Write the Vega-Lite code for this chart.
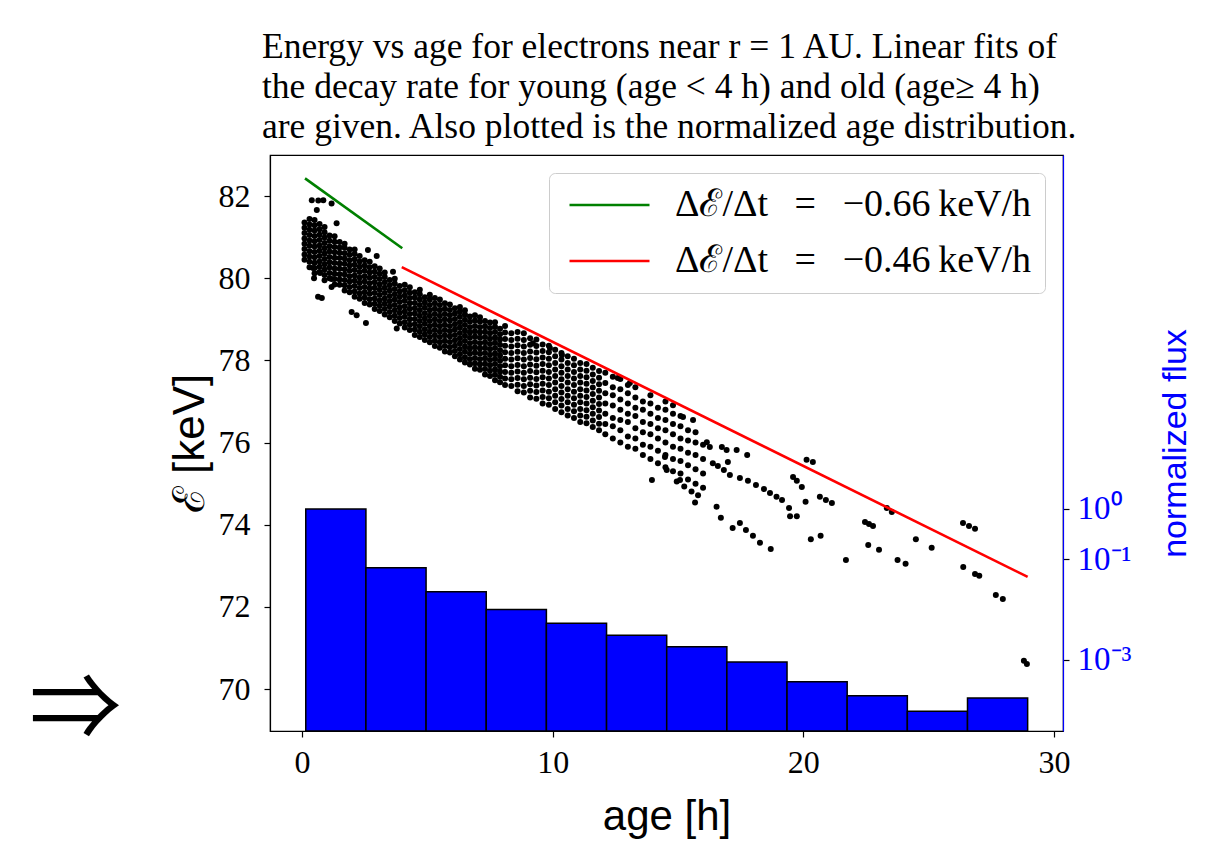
{
  "$schema": "https://vega.github.io/schema/vega-lite/v6.json",
  "autosize": "none",
  "padding": {"left": 270, "top": 155, "right": 146, "bottom": 124},
  "width": 793,
  "height": 576,
  "background": "white",
  "title": {
    "text": ["Energy vs age for electrons near r = 1 AU. Linear fits of", "the decay rate for young (age < 4 h) and old (age≥ 4 h)", "are given. Also plotted is the normalized age distribution."],
    "anchor": "start", "frame": "group", "dx": -8, "offset": 10,
    "font": "Liberation Serif", "fontSize": 35.5, "fontWeight": "normal", "lineHeight": 40, "color": "black"
  },
  "datasets": {
    "pts": [
      {"t":0.1,"e":80.45},{"t":0.1,"e":80.58},{"t":0.1,"e":80.71},{"t":0.1,"e":80.84},{"t":0.1,"e":80.97},{"t":0.1,"e":81.1},{"t":0.1,"e":81.23},{"t":0.1,"e":81.36},
      {"t":0.3,"e":80.27},{"t":0.3,"e":80.4},{"t":0.3,"e":80.53},{"t":0.3,"e":80.66},{"t":0.3,"e":80.79},{"t":0.3,"e":80.92},{"t":0.3,"e":81.05},{"t":0.3,"e":81.18},{"t":0.3,"e":81.31},{"t":0.3,"e":81.44},
      {"t":0.5,"e":80.12},{"t":0.5,"e":80.25},{"t":0.5,"e":80.38},{"t":0.5,"e":80.51},{"t":0.5,"e":80.64},{"t":0.5,"e":80.77},{"t":0.5,"e":80.9},{"t":0.5,"e":81.03},{"t":0.5,"e":81.16},{"t":0.5,"e":81.29},{"t":0.5,"e":81.42},
      {"t":0.7,"e":80.15},{"t":0.7,"e":80.28},{"t":0.7,"e":80.41},{"t":0.7,"e":80.54},{"t":0.7,"e":80.67},{"t":0.7,"e":80.8},{"t":0.7,"e":80.93},{"t":0.7,"e":81.06},{"t":0.7,"e":81.19},{"t":0.7,"e":81.32},
      {"t":0.9,"e":79.95},{"t":0.9,"e":80.08},{"t":0.9,"e":80.21},{"t":0.9,"e":80.34},{"t":0.9,"e":80.47},{"t":0.9,"e":80.6},{"t":0.9,"e":80.73},{"t":0.9,"e":80.86},{"t":0.9,"e":80.99},{"t":0.9,"e":81.12},{"t":0.9,"e":81.25},
      {"t":1.1,"e":80.0},{"t":1.1,"e":80.13},{"t":1.1,"e":80.26},{"t":1.1,"e":80.39},{"t":1.1,"e":80.52},{"t":1.1,"e":80.65},{"t":1.1,"e":80.78},{"t":1.1,"e":80.91},{"t":1.1,"e":81.04},
      {"t":1.3,"e":79.85},{"t":1.3,"e":79.98},{"t":1.3,"e":80.11},{"t":1.3,"e":80.24},{"t":1.3,"e":80.37},{"t":1.3,"e":80.5},{"t":1.3,"e":80.63},{"t":1.3,"e":80.76},{"t":1.3,"e":80.89},{"t":1.3,"e":81.02},
      {"t":1.5,"e":79.84},{"t":1.5,"e":79.97},{"t":1.5,"e":80.1},{"t":1.5,"e":80.23},{"t":1.5,"e":80.36},{"t":1.5,"e":80.49},{"t":1.5,"e":80.62},{"t":1.5,"e":80.75},{"t":1.5,"e":80.88},
      {"t":1.7,"e":79.7},{"t":1.7,"e":79.83},{"t":1.7,"e":79.96},{"t":1.7,"e":80.09},{"t":1.7,"e":80.22},{"t":1.7,"e":80.35},{"t":1.7,"e":80.48},{"t":1.7,"e":80.61},{"t":1.7,"e":80.74},{"t":1.7,"e":80.84},
      {"t":1.9,"e":79.66},{"t":1.9,"e":79.79},{"t":1.9,"e":79.92},{"t":1.9,"e":80.05},{"t":1.9,"e":80.18},{"t":1.9,"e":80.31},{"t":1.9,"e":80.44},{"t":1.9,"e":80.57},{"t":1.9,"e":80.7},
      {"t":2.1,"e":79.55},{"t":2.1,"e":79.68},{"t":2.1,"e":79.81},{"t":2.1,"e":79.94},{"t":2.1,"e":80.07},{"t":2.1,"e":80.2},{"t":2.1,"e":80.33},{"t":2.1,"e":80.46},{"t":2.1,"e":80.59},{"t":2.1,"e":80.7},
      {"t":2.3,"e":79.5},{"t":2.3,"e":79.63},{"t":2.3,"e":79.76},{"t":2.3,"e":79.89},{"t":2.3,"e":80.02},{"t":2.3,"e":80.15},{"t":2.3,"e":80.28},{"t":2.3,"e":80.41},{"t":2.3,"e":80.54},
      {"t":2.5,"e":79.4},{"t":2.5,"e":79.53},{"t":2.5,"e":79.66},{"t":2.5,"e":79.79},{"t":2.5,"e":79.92},{"t":2.5,"e":80.05},{"t":2.5,"e":80.18},{"t":2.5,"e":80.31},{"t":2.5,"e":80.44},
      {"t":2.7,"e":79.36},{"t":2.7,"e":79.49},{"t":2.7,"e":79.62},{"t":2.7,"e":79.75},{"t":2.7,"e":79.88},{"t":2.7,"e":80.01},{"t":2.7,"e":80.14},{"t":2.7,"e":80.27},{"t":2.7,"e":80.4},
      {"t":2.9,"e":79.25},{"t":2.9,"e":79.38},{"t":2.9,"e":79.51},{"t":2.9,"e":79.64},{"t":2.9,"e":79.77},{"t":2.9,"e":79.9},{"t":2.9,"e":80.03},{"t":2.9,"e":80.16},{"t":2.9,"e":80.29},
      {"t":3.1,"e":79.2},{"t":3.1,"e":79.33},{"t":3.1,"e":79.46},{"t":3.1,"e":79.59},{"t":3.1,"e":79.72},{"t":3.1,"e":79.85},{"t":3.1,"e":79.98},{"t":3.1,"e":80.11},{"t":3.1,"e":80.24},
      {"t":3.3,"e":79.12},{"t":3.3,"e":79.25},{"t":3.3,"e":79.38},{"t":3.3,"e":79.51},{"t":3.3,"e":79.64},{"t":3.3,"e":79.77},{"t":3.3,"e":79.9},{"t":3.3,"e":80.03},{"t":3.3,"e":80.14},
      {"t":3.5,"e":79.05},{"t":3.5,"e":79.18},{"t":3.5,"e":79.31},{"t":3.5,"e":79.44},{"t":3.5,"e":79.57},{"t":3.5,"e":79.7},{"t":3.5,"e":79.83},{"t":3.5,"e":79.96},
      {"t":3.7,"e":78.96},{"t":3.7,"e":79.09},{"t":3.7,"e":79.22},{"t":3.7,"e":79.35},{"t":3.7,"e":79.48},{"t":3.7,"e":79.61},{"t":3.7,"e":79.74},{"t":3.7,"e":79.87},{"t":3.7,"e":79.99},
      {"t":3.9,"e":78.9},{"t":3.9,"e":79.03},{"t":3.9,"e":79.16},{"t":3.9,"e":79.29},{"t":3.9,"e":79.42},{"t":3.9,"e":79.55},{"t":3.9,"e":79.68},{"t":3.9,"e":79.81},
      {"t":4.1,"e":78.8},{"t":4.1,"e":78.93},{"t":4.1,"e":79.06},{"t":4.1,"e":79.19},{"t":4.1,"e":79.32},{"t":4.1,"e":79.45},{"t":4.1,"e":79.58},{"t":4.1,"e":79.71},{"t":4.1,"e":79.84},
      {"t":4.3,"e":78.74},{"t":4.3,"e":78.87},{"t":4.3,"e":79.0},{"t":4.3,"e":79.13},{"t":4.3,"e":79.26},{"t":4.3,"e":79.39},{"t":4.3,"e":79.52},{"t":4.3,"e":79.65},{"t":4.3,"e":79.78},
      {"t":4.5,"e":78.62},{"t":4.5,"e":78.75},{"t":4.5,"e":78.88},{"t":4.5,"e":79.01},{"t":4.5,"e":79.14},{"t":4.5,"e":79.27},{"t":4.5,"e":79.4},{"t":4.5,"e":79.53},{"t":4.5,"e":79.66},
      {"t":4.7,"e":78.57},{"t":4.7,"e":78.7},{"t":4.7,"e":78.83},{"t":4.7,"e":78.96},{"t":4.7,"e":79.09},{"t":4.7,"e":79.22},{"t":4.7,"e":79.35},{"t":4.7,"e":79.48},{"t":4.7,"e":79.61},{"t":4.7,"e":79.72},
      {"t":4.9,"e":78.5},{"t":4.9,"e":78.63},{"t":4.9,"e":78.76},{"t":4.9,"e":78.89},{"t":4.9,"e":79.02},{"t":4.9,"e":79.15},{"t":4.9,"e":79.28},{"t":4.9,"e":79.41},{"t":4.9,"e":79.54},
      {"t":5.1,"e":78.44},{"t":5.1,"e":78.57},{"t":5.1,"e":78.7},{"t":5.1,"e":78.83},{"t":5.1,"e":78.96},{"t":5.1,"e":79.09},{"t":5.1,"e":79.22},{"t":5.1,"e":79.35},{"t":5.1,"e":79.48},{"t":5.1,"e":79.6},
      {"t":5.3,"e":78.35},{"t":5.3,"e":78.48},{"t":5.3,"e":78.61},{"t":5.3,"e":78.74},{"t":5.3,"e":78.87},{"t":5.3,"e":79.0},{"t":5.3,"e":79.13},{"t":5.3,"e":79.26},{"t":5.3,"e":79.39},{"t":5.3,"e":79.52},
      {"t":5.5,"e":78.31},{"t":5.5,"e":78.44},{"t":5.5,"e":78.57},{"t":5.5,"e":78.7},{"t":5.5,"e":78.83},{"t":5.5,"e":78.96},{"t":5.5,"e":79.09},{"t":5.5,"e":79.22},{"t":5.5,"e":79.35},{"t":5.5,"e":79.48},
      {"t":5.7,"e":78.22},{"t":5.7,"e":78.35},{"t":5.7,"e":78.48},{"t":5.7,"e":78.61},{"t":5.7,"e":78.74},{"t":5.7,"e":78.87},{"t":5.7,"e":79.0},{"t":5.7,"e":79.13},{"t":5.7,"e":79.26},{"t":5.7,"e":79.39},
      {"t":5.9,"e":78.19},{"t":5.9,"e":78.32},{"t":5.9,"e":78.45},{"t":5.9,"e":78.58},{"t":5.9,"e":78.71},{"t":5.9,"e":78.84},{"t":5.9,"e":78.97},{"t":5.9,"e":79.1},{"t":5.9,"e":79.23},{"t":5.9,"e":79.36},
      {"t":6.1,"e":78.1},{"t":6.1,"e":78.23},{"t":6.1,"e":78.36},{"t":6.1,"e":78.49},{"t":6.1,"e":78.62},{"t":6.1,"e":78.75},{"t":6.1,"e":78.88},{"t":6.1,"e":79.01},{"t":6.1,"e":79.14},{"t":6.1,"e":79.27},
      {"t":6.3,"e":78.02},{"t":6.3,"e":78.15},{"t":6.3,"e":78.28},{"t":6.3,"e":78.41},{"t":6.3,"e":78.54},{"t":6.3,"e":78.67},{"t":6.3,"e":78.8},{"t":6.3,"e":78.93},{"t":6.3,"e":79.06},{"t":6.3,"e":79.19},{"t":6.3,"e":79.3},
      {"t":6.5,"e":77.95},{"t":6.5,"e":78.08},{"t":6.5,"e":78.21},{"t":6.5,"e":78.34},{"t":6.5,"e":78.47},{"t":6.5,"e":78.6},{"t":6.5,"e":78.73},{"t":6.5,"e":78.86},{"t":6.5,"e":78.99},{"t":6.5,"e":79.12},{"t":6.5,"e":79.22},
      {"t":6.7,"e":77.9},{"t":6.7,"e":78.03},{"t":6.7,"e":78.16},{"t":6.7,"e":78.29},{"t":6.7,"e":78.42},{"t":6.7,"e":78.55},{"t":6.7,"e":78.68},{"t":6.7,"e":78.81},{"t":6.7,"e":78.94},{"t":6.7,"e":79.07},
      {"t":6.9,"e":77.8},{"t":6.9,"e":77.93},{"t":6.9,"e":78.06},{"t":6.9,"e":78.19},{"t":6.9,"e":78.32},{"t":6.9,"e":78.45},{"t":6.9,"e":78.58},{"t":6.9,"e":78.71},{"t":6.9,"e":78.84},{"t":6.9,"e":78.97},{"t":6.9,"e":79.1},
      {"t":7.1,"e":77.77},{"t":7.1,"e":77.9},{"t":7.1,"e":78.03},{"t":7.1,"e":78.16},{"t":7.1,"e":78.29},{"t":7.1,"e":78.42},{"t":7.1,"e":78.55},{"t":7.1,"e":78.68},{"t":7.1,"e":78.81},{"t":7.1,"e":78.94},{"t":7.1,"e":79.05},
      {"t":7.3,"e":77.66},{"t":7.3,"e":77.79},{"t":7.3,"e":77.92},{"t":7.3,"e":78.05},{"t":7.3,"e":78.18},{"t":7.3,"e":78.31},{"t":7.3,"e":78.44},{"t":7.3,"e":78.57},{"t":7.3,"e":78.7},{"t":7.3,"e":78.83},{"t":7.3,"e":78.96},
      {"t":7.5,"e":77.62},{"t":7.5,"e":77.75},{"t":7.5,"e":77.88},{"t":7.5,"e":78.01},{"t":7.5,"e":78.14},{"t":7.5,"e":78.27},{"t":7.5,"e":78.4},{"t":7.5,"e":78.53},{"t":7.5,"e":78.66},{"t":7.5,"e":78.79},{"t":7.5,"e":78.92},
      {"t":7.7,"e":77.52},{"t":7.7,"e":77.65},{"t":7.7,"e":77.78},{"t":7.7,"e":77.91},{"t":7.7,"e":78.04},{"t":7.7,"e":78.17},{"t":7.7,"e":78.3},{"t":7.7,"e":78.43},{"t":7.7,"e":78.56},{"t":7.7,"e":78.69},{"t":7.7,"e":78.82},{"t":7.7,"e":78.93},
      {"t":7.9,"e":77.47},{"t":7.9,"e":77.6},{"t":7.9,"e":77.73},{"t":7.9,"e":77.86},{"t":7.9,"e":77.99},{"t":7.9,"e":78.12},{"t":7.9,"e":78.25},{"t":7.9,"e":78.38},{"t":7.9,"e":78.51},{"t":7.9,"e":78.64},{"t":7.9,"e":78.77},
      {"t":8.1,"e":77.4},{"t":8.1,"e":77.56},{"t":8.1,"e":77.72},{"t":8.1,"e":77.88},{"t":8.1,"e":78.04},{"t":8.1,"e":78.2},{"t":8.1,"e":78.36},{"t":8.1,"e":78.52},{"t":8.1,"e":78.68},{"t":8.1,"e":78.84},
      {"t":8.35,"e":77.38},{"t":8.35,"e":77.54},{"t":8.35,"e":77.7},{"t":8.35,"e":77.86},{"t":8.35,"e":78.02},{"t":8.35,"e":78.18},{"t":8.35,"e":78.34},{"t":8.35,"e":78.5},{"t":8.35,"e":78.66},
      {"t":8.6,"e":77.25},{"t":8.6,"e":77.41},{"t":8.6,"e":77.57},{"t":8.6,"e":77.73},{"t":8.6,"e":77.89},{"t":8.6,"e":78.05},{"t":8.6,"e":78.21},{"t":8.6,"e":78.37},{"t":8.6,"e":78.53},{"t":8.6,"e":78.69},
      {"t":8.85,"e":77.22},{"t":8.85,"e":77.38},{"t":8.85,"e":77.54},{"t":8.85,"e":77.7},{"t":8.85,"e":77.86},{"t":8.85,"e":78.02},{"t":8.85,"e":78.18},{"t":8.85,"e":78.34},{"t":8.85,"e":78.5},{"t":8.85,"e":78.66},
      {"t":9.1,"e":77.1},{"t":9.1,"e":77.26},{"t":9.1,"e":77.42},{"t":9.1,"e":77.58},{"t":9.1,"e":77.74},{"t":9.1,"e":77.9},{"t":9.1,"e":78.06},{"t":9.1,"e":78.22},{"t":9.1,"e":78.38},{"t":9.1,"e":78.54},
      {"t":9.35,"e":77.07},{"t":9.35,"e":77.23},{"t":9.35,"e":77.39},{"t":9.35,"e":77.55},{"t":9.35,"e":77.71},{"t":9.35,"e":77.87},{"t":9.35,"e":78.03},{"t":9.35,"e":78.19},{"t":9.35,"e":78.35},{"t":9.35,"e":78.51},
      {"t":9.6,"e":76.95},{"t":9.6,"e":77.11},{"t":9.6,"e":77.27},{"t":9.6,"e":77.43},{"t":9.6,"e":77.59},{"t":9.6,"e":77.75},{"t":9.6,"e":77.91},{"t":9.6,"e":78.07},{"t":9.6,"e":78.23},{"t":9.6,"e":78.39},
      {"t":9.85,"e":76.92},{"t":9.85,"e":77.08},{"t":9.85,"e":77.24},{"t":9.85,"e":77.4},{"t":9.85,"e":77.56},{"t":9.85,"e":77.72},{"t":9.85,"e":77.88},{"t":9.85,"e":78.04},{"t":9.85,"e":78.2},{"t":9.85,"e":78.36},
      {"t":10.1,"e":76.82},{"t":10.1,"e":76.98},{"t":10.1,"e":77.14},{"t":10.1,"e":77.3},{"t":10.1,"e":77.46},{"t":10.1,"e":77.62},{"t":10.1,"e":77.78},{"t":10.1,"e":77.94},{"t":10.1,"e":78.1},{"t":10.1,"e":78.26},
      {"t":10.35,"e":76.74},{"t":10.35,"e":76.9},{"t":10.35,"e":77.06},{"t":10.35,"e":77.22},{"t":10.35,"e":77.38},{"t":10.35,"e":77.54},{"t":10.35,"e":77.7},{"t":10.35,"e":77.86},{"t":10.35,"e":78.02},{"t":10.35,"e":78.18},
      {"t":10.6,"e":76.66},{"t":10.6,"e":76.82},{"t":10.6,"e":76.98},{"t":10.6,"e":77.14},{"t":10.6,"e":77.3},{"t":10.6,"e":77.46},{"t":10.6,"e":77.62},{"t":10.6,"e":77.78},{"t":10.6,"e":77.94},{"t":10.6,"e":78.1},
      {"t":10.85,"e":76.6},{"t":10.85,"e":76.76},{"t":10.85,"e":76.92},{"t":10.85,"e":77.08},{"t":10.85,"e":77.24},{"t":10.85,"e":77.4},{"t":10.85,"e":77.56},{"t":10.85,"e":77.72},{"t":10.85,"e":77.88},{"t":10.85,"e":78.04},
      {"t":11.1,"e":76.5},{"t":11.1,"e":76.66},{"t":11.1,"e":76.82},{"t":11.1,"e":76.98},{"t":11.1,"e":77.14},{"t":11.1,"e":77.3},{"t":11.1,"e":77.46},{"t":11.1,"e":77.62},{"t":11.1,"e":77.78},{"t":11.1,"e":77.94},
      {"t":11.35,"e":76.47},{"t":11.35,"e":76.63},{"t":11.35,"e":76.79},{"t":11.35,"e":76.95},{"t":11.35,"e":77.11},{"t":11.35,"e":77.27},{"t":11.35,"e":77.43},{"t":11.35,"e":77.59},{"t":11.35,"e":77.75},{"t":11.35,"e":77.91},
      {"t":11.6,"e":76.38},{"t":11.6,"e":76.54},{"t":11.6,"e":76.7},{"t":11.6,"e":76.86},{"t":11.6,"e":77.02},{"t":11.6,"e":77.18},{"t":11.6,"e":77.34},{"t":11.6,"e":77.5},{"t":11.6,"e":77.66},{"t":11.6,"e":77.82},
      {"t":11.85,"e":76.3},{"t":11.85,"e":76.46},{"t":11.85,"e":76.62},{"t":11.85,"e":76.78},{"t":11.85,"e":76.94},{"t":11.85,"e":77.1},{"t":11.85,"e":77.26},{"t":11.85,"e":77.42},{"t":11.85,"e":77.58},{"t":11.85,"e":77.74},
      {"t":12.1,"e":76.2},{"t":12.1,"e":76.45},{"t":12.1,"e":76.7},{"t":12.1,"e":76.95},{"t":12.1,"e":77.2},{"t":12.1,"e":77.45},{"t":12.1,"e":77.7},
      {"t":12.4,"e":76.1},{"t":12.4,"e":76.4},{"t":12.4,"e":76.6},{"t":12.4,"e":76.9},{"t":12.4,"e":77.15},{"t":12.4,"e":77.35},{"t":12.4,"e":77.6},
      {"t":12.7,"e":76.0},{"t":12.7,"e":76.3},{"t":12.7,"e":76.55},{"t":12.7,"e":76.8},{"t":12.7,"e":77.05},{"t":12.7,"e":77.3},{"t":12.7,"e":77.55},
      {"t":13.0,"e":75.9},{"t":13.0,"e":76.15},{"t":13.0,"e":76.5},{"t":13.0,"e":76.7},{"t":13.0,"e":76.95},{"t":13.0,"e":77.2},{"t":13.0,"e":77.4},
      {"t":13.3,"e":75.85},{"t":13.3,"e":76.1},{"t":13.3,"e":76.35},{"t":13.3,"e":76.65},{"t":13.3,"e":76.85},{"t":13.3,"e":77.1},{"t":13.3,"e":77.35},
      {"t":13.6,"e":75.7},{"t":13.6,"e":75.95},{"t":13.6,"e":76.25},{"t":13.6,"e":76.5},{"t":13.6,"e":76.8},{"t":13.6,"e":77.0},
      {"t":13.9,"e":75.6},{"t":13.9,"e":75.9},{"t":13.9,"e":76.2},{"t":13.9,"e":76.45},{"t":13.9,"e":76.7},{"t":13.9,"e":76.95},{"t":13.9,"e":77.15},
      {"t":14.2,"e":75.5},{"t":14.2,"e":75.8},{"t":14.2,"e":76.1},{"t":14.2,"e":76.35},{"t":14.2,"e":76.6},{"t":14.2,"e":76.85},
      {"t":14.5,"e":75.4},{"t":14.5,"e":75.7},{"t":14.5,"e":76.0},{"t":14.5,"e":76.3},{"t":14.5,"e":76.55},{"t":14.5,"e":76.8},{"t":14.5,"e":77.0},
      {"t":14.8,"e":75.3},{"t":14.8,"e":75.6},{"t":14.8,"e":75.9},{"t":14.8,"e":76.2},{"t":14.8,"e":76.45},{"t":14.8,"e":76.7},{"t":14.8,"e":76.91},
      {"t":15.1,"e":75.25},{"t":15.1,"e":75.55},{"t":15.1,"e":75.85},{"t":15.1,"e":76.1},{"t":15.1,"e":76.4},{"t":15.1,"e":76.65},
      {"t":15.4,"e":75.1},{"t":15.4,"e":75.45},{"t":15.4,"e":75.75},{"t":15.4,"e":76.05},{"t":15.4,"e":76.3},{"t":15.2,"e":76.62},{"t":15.6,"e":76.55},
      {"t":15.7,"e":75.0},{"t":15.7,"e":75.35},{"t":15.7,"e":75.7},{"t":15.7,"e":76.0},{"t":15.7,"e":76.25},
      {"t":16.0,"e":74.9},{"t":16.0,"e":75.25},{"t":16.0,"e":75.6},{"t":16.0,"e":75.95},{"t":16.15,"e":76.01},
      {"t":14.48,"e":75.65},{"t":14.55,"e":75.33},{"t":14.95,"e":75.05},{"t":15.25,"e":74.93},{"t":15.54,"e":74.81},{"t":15.68,"e":74.54},{"t":15.8,"e":74.72},{"t":13.96,"e":75.09},{"t":15.08,"e":75.09},
      {"t":16.27,"e":75.89},{"t":16.75,"e":75.89},{"t":16.99,"e":75.53},{"t":16.94,"e":75.82},{"t":17.34,"e":75.82},{"t":17.76,"e":75.7},
      {"t":16.39,"e":75.5},{"t":16.59,"e":75.43},{"t":16.83,"e":75.33},{"t":17.07,"e":75.21},
      {"t":17.47,"e":75.14},{"t":17.79,"e":75.07},{"t":18.11,"e":74.97},{"t":18.43,"e":74.87},{"t":18.67,"e":74.77},{"t":18.93,"e":74.68},
      {"t":16.54,"e":74.44},{"t":16.71,"e":74.17},{"t":17.18,"e":73.92},{"t":17.47,"e":74.04},{"t":17.71,"e":73.87},{"t":17.99,"e":73.73},{"t":18.27,"e":73.56},{"t":18.7,"e":73.41},
      {"t":19.15,"e":74.6},{"t":19.43,"e":74.41},{"t":19.74,"e":74.21},{"t":19.47,"e":74.21},
      {"t":19.59,"e":75.16},{"t":19.74,"e":75.07},{"t":19.94,"e":74.92},{"t":20.13,"e":75.58},{"t":20.38,"e":75.53},{"t":20.09,"e":74.56},
      {"t":20.66,"e":74.68},{"t":20.9,"e":74.6},{"t":21.14,"e":74.53},{"t":20.3,"e":73.65},{"t":20.69,"e":73.73},{"t":21.7,"e":73.14},
      {"t":22.46,"e":74.07},{"t":22.62,"e":74.02},{"t":22.78,"e":73.97},{"t":22.59,"e":73.51},{"t":23.02,"e":73.39},
      {"t":23.33,"e":74.41},{"t":23.53,"e":74.31},{"t":23.76,"e":73.14},{"t":24.08,"e":73.05},{"t":24.49,"e":73.65},{"t":25.12,"e":73.44},
      {"t":26.37,"e":74.04},{"t":26.61,"e":73.97},{"t":26.85,"e":73.9},{"t":26.38,"e":72.97},{"t":26.85,"e":72.8},{"t":27.02,"e":72.76},
      {"t":27.68,"e":72.29},{"t":27.96,"e":72.19},{"t":28.8,"e":70.69},{"t":28.92,"e":70.61},
      {"t":0.39,"e":81.9},{"t":0.65,"e":81.89},{"t":0.85,"e":81.9},{"t":1.18,"e":81.82},{"t":0.59,"e":81.66},{"t":1.38,"e":81.34},
      {"t":2.63,"e":80.69},{"t":2.98,"e":80.54},{"t":3.63,"e":80.16},{"t":0.44,"e":80.25},{"t":0.72,"e":80.13},{"t":0.48,"e":80.0},
      {"t":1.18,"e":79.98},{"t":1.18,"e":79.79},{"t":0.64,"e":79.55},{"t":0.79,"e":79.52},{"t":1.98,"e":79.18},{"t":2.18,"e":79.1},{"t":2.55,"e":78.91},{"t":3.78,"e":78.78},
      {"t":9.21,"e":78.42},{"t":9.89,"e":78.3},{"t":10.37,"e":78.13},{"t":12.6,"e":77.57},{"t":13.08,"e":77.45}
    ],
    "fits": [
      {"fit":"Δℰ/Δt = −0.66 keV/h","t":0.12,"e":82.43},
      {"fit":"Δℰ/Δt = −0.66 keV/h","t":4.0,"e":80.73},
      {"fit":"Δℰ/Δt = −0.46 keV/h","t":3.98,"e":80.27},
      {"fit":"Δℰ/Δt = −0.46 keV/h","t":28.95,"e":72.73}
    ],
    "hist": [
      {"t0":0.15,"t1":2.55,"flux":1.0},
      {"t0":2.55,"t1":4.95,"flux":0.068},
      {"t0":4.95,"t1":7.35,"flux":0.0227},
      {"t0":7.35,"t1":9.75,"flux":0.0101},
      {"t0":9.75,"t1":12.15,"flux":0.00533},
      {"t0":12.15,"t1":14.55,"flux":0.00309},
      {"t0":14.55,"t1":16.95,"flux":0.00183},
      {"t0":16.95,"t1":19.35,"flux":0.00091},
      {"t0":19.35,"t1":21.75,"flux":0.00037},
      {"t0":21.75,"t1":24.15,"flux":0.000195},
      {"t0":24.15,"t1":26.55,"flux":0.0000955},
      {"t0":26.55,"t1":28.95,"flux":0.000175}
    ],
    "note": [
      {"t": -9.05, "e": 69.45, "label": "⇒"}
    ]
  },
  "layer": [
    {
      "layer": [
        {
          "data": {"name": "pts"},
          "mark": {"type": "circle", "size": 36, "color": "black", "opacity": 1},
          "encoding": {
            "x": {"field": "t", "type": "quantitative", "scale": {"domain": [-1.277, 30.36], "nice": false, "zero": false},
                  "axis": {"values": [0, 10, 20, 30], "title": "age [h]", "titleFontSize": 42, "labelPadding": 10, "titlePadding": 18}},
            "y": {"field": "e", "type": "quantitative", "scale": {"domain": [68.98, 83.0], "nice": false, "zero": false},
                  "axis": {"orient": "left", "values": [70, 72, 74, 76, 78, 80, 82], "title": "ℰ [keV]", "titleFontSize": 44, "labelPadding": 14, "titlePadding": 6}}
          }
        },
        {
          "data": {"name": "fits"},
          "mark": {"type": "line", "strokeWidth": 2.6},
          "encoding": {
            "x": {"field": "t", "type": "quantitative"},
            "y": {"field": "e", "type": "quantitative"},
            "color": {"field": "fit", "type": "nominal",
                      "scale": {"domain": ["Δℰ/Δt = −0.66 keV/h", "Δℰ/Δt = −0.46 keV/h"], "range": ["#008000", "#ff0000"]},
                      "legend": {"title": null, "orient": "top-right", "offset": 18, "symbolType": "M-1.15,0H6.85", "symbolSize": 400, "symbolStrokeWidth": 2.6,
                                 "labelFont": "Liberation Serif", "labelFontSize": 38, "labelColor": "black", "labelOffset": 75, "rowPadding": 18,
                                 "labelExpr": "replace(replace(datum.label, ' = ', '\u2002\u2009=\u2002\u2009'), ' keV', '\u2009keV')",
                                 "fillColor": "white", "strokeColor": "#cccccc", "cornerRadius": 6, "padding": 13, "labelLimit": 700}}
          }
        },
        {
          "data": {"name": "note"},
          "mark": {"type": "text", "font": "Noto Sans CJK JP", "fontSize": 92, "color": "black", "align": "center", "baseline": "middle"},
          "encoding": {
            "x": {"field": "t", "type": "quantitative"},
            "y": {"field": "e", "type": "quantitative"},
            "text": {"field": "label"}
          }
        }
      ]
    },
    {
      "data": {"name": "hist"},
      "mark": {"type": "rect", "color": "#0000ff", "stroke": "black", "strokeWidth": 1.5},
      "encoding": {
        "x": {"field": "t0", "type": "quantitative"},
        "x2": {"field": "t1"},
        "y": {"field": "flux", "type": "quantitative",
              "scale": {"type": "log", "domain": [0.0000388, 10700000], "nice": false},
              "axis": {"orient": "right", "values": [1, 0.1, 0.001], "labelExpr": "datum.value >= 0.5 ? '10⁰' : datum.value >= 0.05 ? '10⁻¹' : '10⁻³'",
                       "labelColor": "#0000ff", "domainColor": "#0000ff", "tickColor": "black", "labelPadding": 8, "labelFontSize": 33,
                       "title": "normalized flux", "titleColor": "#0000ff", "titleFontSize": 34, "titleAngle": 270, "titlePadding": 62}},
        "y2": {"datum": 0.0000388}
      }
    }
  ],
  "resolve": {"scale": {"y": "independent"}, "axis": {"y": "independent"}},
  "config": {
    "view": {"stroke": "black", "strokeWidth": 1.2},
    "axis": {"grid": false, "domainColor": "black", "domainWidth": 1.2, "tickColor": "black", "tickWidth": 1.2, "tickSize": 6,
             "labelFont": "Liberation Serif", "labelFontSize": 32, "labelColor": "black", "labelFlush": false, "labelOverlap": false,
             "titleFont": "Liberation Sans", "titleFontSize": 40, "titleFontWeight": "normal", "titleColor": "black"}
  }
}
